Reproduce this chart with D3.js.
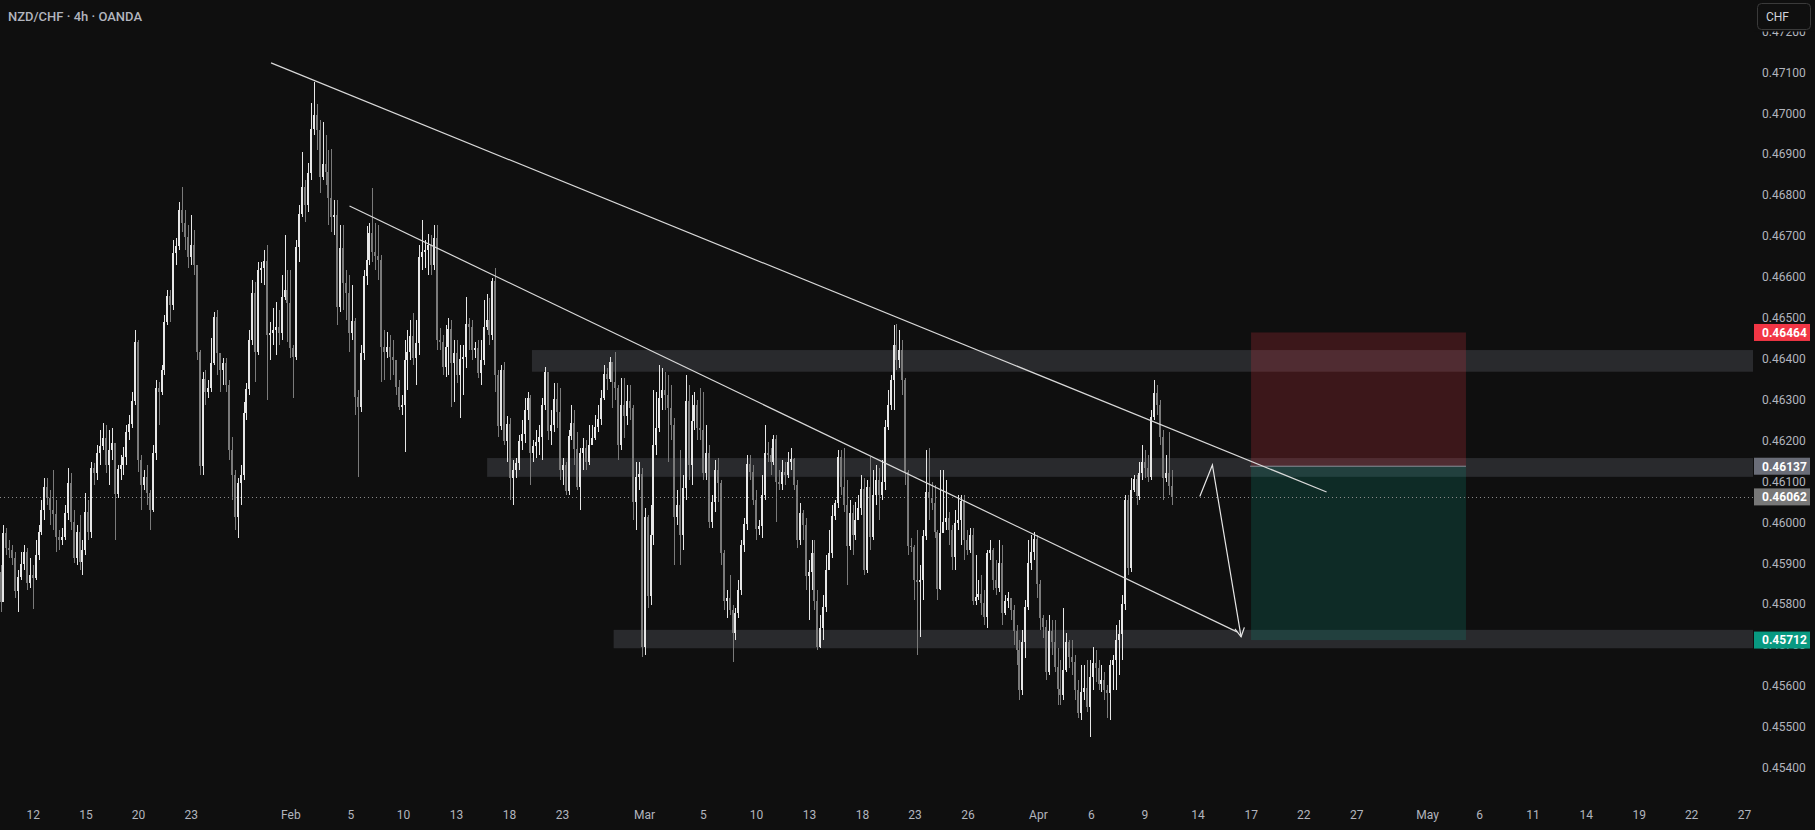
<!DOCTYPE html>
<html>
<head>
<meta charset="utf-8">
<script src="https://cdn.jsdelivr.net/npm/d3@7"></script>
<style>
	html, body { margin: 0; padding: 0; background: #0f0f0f; overflow: hidden; }
	svg { display: block; }
</style>
</head>
<body>
<div id="chart"></div>
<script>
// NZD/CHF 4h candles, prices in 1e-5 units (open = previous close)
var open0 = 45879;
var closes = [
	45805, 45974, 45937, 45932, 45913, 45832, 45866, 45898, 45927, 45852,
	45871, 45864, 45920, 45976, 46030, 46086, 46059, 46030, 46020, 45964,
	45957, 45964, 46023, 46096, 46001, 45913, 45976, 45903, 45932, 46025,
	45976, 46133, 46121, 46169, 46187, 46206, 46140, 46177, 46194, 46069,
	46130, 46140, 46160, 46221, 46240, 46297, 46441, 46152, 46091, 46111,
	46072, 46030, 46169, 46329, 46319, 46372, 46490, 46553, 46531, 46658,
	46676, 46764, 46732, 46698, 46649, 46678, 46629, 46416, 46138, 46350,
	46319, 46329, 46390, 46502, 46414, 46372, 46390, 46336, 46177, 46116,
	46013, 46096, 46116, 46267, 46326, 46446, 46561, 46416, 46617, 46622,
	46639, 46458, 46463, 46470, 46477, 46463, 46551, 46568, 46536, 46426,
	46404, 46673, 46754, 46820, 46776, 46854, 46962, 46996, 46959, 46844,
	46876, 46856, 46793, 46747, 46751, 46527, 46671, 46585, 46561, 46463,
	46492, 46306, 46282, 46414, 46602, 46641, 46707, 46661, 46651, 46641,
	46429, 46416, 46429, 46404, 46397, 46331, 46282, 46287, 46397, 46416,
	46456, 46402, 46438, 46649, 46661, 46666, 46678, 46629, 46695, 46446,
	46441, 46380, 46429, 46473, 46390, 46414, 46360, 46399, 46404, 46485,
	46477, 46421, 46426, 46365, 46397, 46477, 46495, 46458, 46590, 46360,
	46236, 46372, 46199, 46240, 46108, 46128, 46145, 46199, 46216, 46275,
	46304, 46169, 46187, 46196, 46209, 46287, 46368, 46223, 46238, 46302,
	46270, 46128, 46140, 46077, 46211, 46243, 46179, 46086, 46169, 46182,
	46147, 46189, 46206, 46233, 46253, 46304, 46363, 46350, 46392, 46343,
	46329, 46189, 46287, 46260, 46297, 46280, 46050, 46111, 46118, 45695,
	46013, 45820, 45969, 46189, 46231, 46304, 46324, 46311, 46280, 46238,
	46013, 46042, 45969, 46084, 46297, 46140, 46248, 46287, 46231, 46226,
	46121, 46169, 46001, 46050, 46128, 46096, 45925, 45808, 45815, 45786,
	45730, 45779, 45835, 45945, 45996, 46143, 46123, 46055, 45984, 45991,
	46067, 46169, 46165, 46147, 46204, 46099, 46094, 46123, 46116, 46147,
	46155, 46091, 45957, 46023, 45994, 45869, 45879, 45925, 45808, 45695,
	45742, 45793, 45883, 45925, 46015, 46047, 46160, 46086, 46042, 45942,
	46023, 45969, 46006, 46035, 46081, 45883, 46086, 45964, 46067, 46104,
	46067, 46099, 46233, 46287, 46348, 46434, 46397, 46421, 46348, 46123,
	45942, 45940, 45859, 45854, 45859, 45967, 46074, 46059, 46047, 45976,
	45837, 45974, 46001, 46011, 45981, 45915, 45998, 46006, 46052, 45957,
	45932, 45969, 45808, 45818, 45825, 45803, 45769, 45925, 45932, 45859,
	45839, 45901, 45779, 45808, 45815, 45786, 45734, 45688, 45590, 45707,
	45793, 45901, 45927, 45959, 45849, 45766, 45744, 45634, 45734, 45707,
	45646, 45593, 45578, 45639, 45707, 45671, 45659, 45590, 45534, 45585,
	45595, 45549, 45622, 45656, 45644, 45605, 45615, 45590, 45583, 45651,
	45664, 45712, 45727, 45800, 46055, 45888, 46079, 46106, 46064, 46121,
	46147, 46133, 46111, 46257, 46316, 46287, 46209, 46108, 46121, 46089,
	46062
];
var highs = [
	45896, 45994, 45986, 45957, 45945, 45927, 45883, 45927, 45945, 45937,
	45913, 45896, 45957, 45994, 46055, 46108, 46108, 46079, 46128, 46055,
	45981, 45986, 46042, 46133, 46121, 46030, 45994, 46018, 45957, 46072,
	46055, 46147, 46145, 46189, 46226, 46243, 46238, 46226, 46231, 46098,
	46140, 46165, 46184, 46238, 46263, 46319, 46470, 46446, 46165, 46128,
	46140, 46079, 46189, 46348, 46343, 46385, 46507, 46568, 46568, 46690,
	46695, 46783, 46820, 46764, 46727, 46751, 46715, 46629, 46421, 46368,
	46372, 46348, 46451, 46514, 46519, 46409, 46402, 46402, 46348, 46209,
	46128, 46108, 46140, 46294, 46341, 46470, 46593, 46588, 46636, 46636,
	46666, 46678, 46490, 46524, 46539, 46519, 46605, 46703, 46617, 46617,
	46434, 46690, 46776, 46905, 46837, 46878, 47025, 47076, 47023, 46984,
	46979, 46947, 46910, 46913, 46788, 46788, 46727, 46727, 46617, 46605,
	46580, 46500, 46324, 46434, 46617, 46724, 46732, 46817, 46732, 46727,
	46654, 46470, 46465, 46458, 46446, 46397, 46348, 46311, 46446, 46470,
	46495, 46512, 46495, 46678, 46739, 46690, 46705, 46703, 46727, 46727,
	46475, 46458, 46482, 46500, 46495, 46446, 46446, 46434, 46434, 46551,
	46500, 46495, 46441, 46446, 46446, 46544, 46558, 46549, 46597, 46622,
	46372, 46385, 46392, 46260, 46255, 46152, 46157, 46214, 46250, 46304,
	46319, 46311, 46201, 46226, 46238, 46304, 46380, 46343, 46275, 46341,
	46341, 46329, 46157, 46147, 46226, 46287, 46275, 46221, 46182, 46206,
	46201, 46238, 46238, 46263, 46287, 46324, 46385, 46377, 46404, 46392,
	46416, 46336, 46353, 46353, 46336, 46336, 46287, 46147, 46147, 46133,
	46035, 46018, 46042, 46324, 46319, 46385, 46377, 46368, 46360, 46336,
	46255, 46079, 46177, 46116, 46360, 46336, 46311, 46319, 46299, 46329,
	46319, 46238, 46189, 46067, 46152, 46157, 46104, 45932, 45835, 45871,
	45798, 45791, 45859, 45957, 46011, 46165, 46165, 46140, 46079, 46006,
	46116, 46238, 46196, 46182, 46214, 46214, 46128, 46152, 46147, 46172,
	46182, 46157, 46104, 46047, 46030, 46011, 45908, 45957, 45957, 45835,
	45773, 45822, 45920, 45981, 46042, 46055, 46177, 46177, 46182, 46104,
	46055, 46042, 46050, 46067, 46116, 46108, 46104, 46160, 46128, 46140,
	46133, 46152, 46250, 46324, 46360, 46482, 46485, 46470, 46446, 46353,
	46128, 45962, 45945, 45981, 45896, 45981, 46177, 46182, 46099, 46091,
	45981, 46128, 46128, 46104, 46025, 45994, 46030, 46067, 46067, 46067,
	45981, 45986, 45986, 45920, 45859, 45871, 45835, 45932, 45957, 45937,
	45908, 45957, 45945, 45822, 45830, 45815, 45798, 45749, 45712, 45737,
	45810, 45957, 45969, 45976, 45969, 45859, 45773, 45761, 45773, 45761,
	45761, 45693, 45664, 45791, 45730, 45712, 45712, 45676, 45615, 45652,
	45652, 45664, 45664, 45695, 45688, 45664, 45652, 45634, 45603, 45664,
	45676, 45749, 45761, 45822, 46067, 46067, 46108, 46116, 46116, 46147,
	46189, 46177, 46165, 46275, 46348, 46336, 46299, 46226, 46165, 46221,
	46128
];
var lows = [
	45781, 45839, 45920, 45913, 45896, 45815, 45781, 45859, 45883, 45835,
	45839, 45788, 45859, 45908, 45969, 46006, 46042, 45994, 45981, 45927,
	45932, 45945, 45957, 46006, 45981, 45901, 45896, 45883, 45871, 45920,
	45957, 45962, 46091, 46104, 46140, 46177, 46121, 46091, 46152, 45957,
	46059, 46104, 46116, 46140, 46201, 46231, 46287, 46123, 46030, 46079,
	46042, 45981, 46025, 46152, 46238, 46311, 46360, 46482, 46490, 46519,
	46629, 46666, 46710, 46666, 46622, 46629, 46605, 46397, 46116, 46116,
	46287, 46304, 46319, 46385, 46360, 46319, 46336, 46319, 46152, 46055,
	45981, 45962, 46042, 46104, 46250, 46311, 46434, 46343, 46409, 46585,
	46580, 46299, 46397, 46434, 46409, 46434, 46446, 46544, 46441, 46402,
	46304, 46397, 46636, 46747, 46734, 46759, 46837, 46947, 46910, 46805,
	46837, 46825, 46727, 46710, 46703, 46482, 46514, 46519, 46495, 46416,
	46446, 46263, 46111, 46270, 46397, 46580, 46629, 46636, 46617, 46593,
	46343, 46348, 46402, 46348, 46360, 46311, 46275, 46263, 46172, 46324,
	46397, 46385, 46336, 46409, 46617, 46622, 46605, 46605, 46617, 46421,
	46421, 46360, 46355, 46360, 46282, 46294, 46341, 46255, 46311, 46377,
	46421, 46397, 46402, 46353, 46336, 46385, 46470, 46434, 46446, 46319,
	46209, 46226, 46189, 46147, 46055, 46042, 46108, 46128, 46177, 46194,
	46250, 46091, 46147, 46157, 46165, 46152, 46275, 46201, 46189, 46221,
	46231, 46104, 46091, 46067, 46067, 46201, 46140, 46079, 46030, 46128,
	46128, 46140, 46196, 46201, 46221, 46238, 46299, 46324, 46343, 46280,
	46299, 46152, 46177, 46206, 46238, 46250, 46006, 45981, 46079, 45671,
	45676, 45791, 45798, 45945, 46165, 46221, 46275, 46275, 46147, 46201,
	45896, 45994, 45896, 45932, 46055, 46104, 46091, 46226, 46201, 46201,
	46104, 46104, 45986, 45986, 46025, 46050, 45896, 45786, 45766, 45773,
	45659, 45712, 45766, 45822, 45927, 45981, 46104, 46042, 45957, 45969,
	45962, 46055, 46147, 46116, 46140, 46001, 46079, 46079, 46091, 46108,
	46128, 46079, 45937, 45945, 45957, 45835, 45761, 45835, 45786, 45688,
	45693, 45712, 45781, 45896, 45913, 46006, 46035, 46067, 46025, 45847,
	45932, 45920, 45957, 46006, 46018, 45871, 45876, 45932, 45957, 46042,
	46006, 46055, 46079, 46226, 46275, 46275, 46372, 46377, 46311, 46091,
	45920, 45927, 45810, 45676, 45720, 45810, 45957, 46006, 46030, 45962,
	45810, 45835, 45981, 45981, 45945, 45883, 45883, 45981, 45945, 45908,
	45920, 45925, 45798, 45798, 45810, 45773, 45749, 45742, 45908, 45835,
	45822, 45830, 45749, 45773, 45791, 45761, 45700, 45652, 45566, 45578,
	45669, 45786, 45883, 45908, 45815, 45737, 45717, 45615, 45627, 45676,
	45634, 45554, 45554, 45566, 45634, 45644, 45627, 45566, 45522, 45517,
	45566, 45536, 45476, 45590, 45610, 45590, 45585, 45566, 45522, 45517,
	45590, 45590, 45627, 45664, 45786, 45871, 45879, 46074, 46042, 46055,
	46104, 46108, 46099, 46104, 46250, 46263, 46189, 46055, 46099, 46067,
	46042
];

// time axis: bar index of each label
var tickIdx = [11, 29, 47, 65, 99, 119.5, 137.5, 155.6, 173.7, 191.8, 219.8, 239.9, 258, 276.1, 294.2, 312.2, 330.3,
	354.3, 372.4, 390.7, 408.8, 427, 444.9, 463, 487.2, 505, 523.2, 541.4, 559.5, 577.4, 595.5];
var tickLabels = ["12", "15", "20", "23", "Feb", "5", "10", "13", "18", "23", "Mar", "5", "10", "13", "18", "23", "26",
	"Apr", "6", "9", "14", "17", "22", "27", "May", "6", "11", "14", "19", "22", "27"];
var priceTicks = [0.454, 0.455, 0.456, 0.457, 0.458, 0.459, 0.460, 0.461, 0.462, 0.463, 0.464, 0.465, 0.466,
	0.467, 0.468, 0.469, 0.470, 0.471, 0.472];

// grey zones: first bar, low, high
var zoneStart = [181.5, 166.2, 209.4];
var zoneLow = [0.46368, 0.46111, 0.45692];
var zoneHigh = [0.46421, 0.46157, 0.45737];

// drawings: [bar index, price]
var trendA = [[92.4, 0.47123], [452.9, 0.46074]];
var trendB = [[119.2, 0.46773], [422.3, 0.45732]];
var arrowPts = [[409.6, 0.46063], [413.9, 0.46140], [423.7, 0.45720]];

// short position tool
var posStart = 427.1, posEnd = 500.5;
var entryPrice = 0.46137, stopPrice = 0.46464, targetPrice = 0.45712;
var lastPrice = 0.46062;

var badgePrices = [stopPrice, entryPrice, lastPrice, targetPrice];
var badgeColors = ["#f23645", "#6a6d78", "#787878", "#089981"];

var width = 1815, height = 830;
var plotRight = 1753;
var font = "Roboto, 'Noto Sans', sans-serif";

var x = d3.scaleLinear().domain([0, 400]).range([0.5, 1171.7]);
var y = d3.scaleLinear().domain([0.471, 0.454]).range([72.3, 767.7]);

var svg = d3.select("#chart").append("svg")
	.attr("width", width)
	.attr("height", height);

svg.append("rect")
	.attr("width", width)
	.attr("height", height)
	.attr("fill", "#0f0f0f");

// zones
svg.selectAll(".zone")
	.data(zoneStart)
	.enter()
	.append("rect")
	.attr("class", "zone")
	.attr("x", function (d) { return x(d); })
	.attr("width", function (d) { return plotRight - x(d); })
	.attr("y", function (d, i) { return y(zoneHigh[i]); })
	.attr("height", function (d, i) { return y(zoneLow[i]) - y(zoneHigh[i]); })
	.attr("fill", "rgba(120,123,134,0.25)");

// position boxes
svg.append("rect")
	.attr("x", x(posStart)).attr("width", x(posEnd) - x(posStart))
	.attr("y", y(stopPrice)).attr("height", y(entryPrice) - y(stopPrice))
	.attr("fill", "rgba(242,54,69,0.2)");
svg.append("rect")
	.attr("x", x(posStart)).attr("width", x(posEnd) - x(posStart))
	.attr("y", y(entryPrice)).attr("height", y(targetPrice) - y(entryPrice))
	.attr("fill", "rgba(8,153,129,0.2)");
svg.append("line")
	.attr("x1", x(posStart) - 1).attr("x2", x(posEnd))
	.attr("y1", y(entryPrice)).attr("y2", y(entryPrice))
	.attr("stroke", "#8a8d96").attr("stroke-width", 1);

// last price dotted line
svg.append("line")
	.attr("x1", 0).attr("x2", plotRight)
	.attr("y1", Math.round(y(lastPrice)) + 0.5).attr("y2", Math.round(y(lastPrice)) + 0.5)
	.attr("stroke", "#8a8a8a").attr("stroke-width", 1)
	.attr("stroke-dasharray", "1,3");

// candles
var bars = closes.map(function (c, i) {
	var o = (i == 0 ? open0 : closes[i - 1]) / 1e5;
	return { i: i, o: o, h: highs[i] / 1e5, l: lows[i] / 1e5, c: c / 1e5 };
});
var upColor = "#e6e6e6", downColor = "#7a7a7a";

var candle = svg.append("g").attr("shape-rendering", "crispEdges");
candle.selectAll(".wick")
	.data(bars)
	.enter()
	.append("rect")
	.attr("x", function (d) { return Math.round(x(d.i)); })
	.attr("width", 1)
	.attr("y", function (d) { return y(Math.max(d.h, d.o, d.c)); })
	.attr("height", function (d) { return y(Math.min(d.l, d.o, d.c)) - y(Math.max(d.h, d.o, d.c)); })
	.attr("fill", function (d) { return d.c >= d.o ? upColor : downColor; });
candle.selectAll(".body")
	.data(bars)
	.enter()
	.append("rect")
	.attr("x", function (d) { return Math.round(x(d.i)) - 1; })
	.attr("width", 2)
	.attr("y", function (d) { return y(Math.max(d.o, d.c)); })
	.attr("height", function (d) { return Math.max(1, Math.abs(y(d.o) - y(d.c))); })
	.attr("fill", function (d) { return d.c >= d.o ? upColor : downColor; });

// trend lines
var line = d3.line()
	.x(function (d) { return x(d[0]); })
	.y(function (d) { return y(d[1]); });
[trendA, trendB].forEach(function (t) {
	svg.append("path")
		.attr("d", line(t))
		.attr("fill", "none")
		.attr("stroke", "#d9d9d9")
		.attr("stroke-width", 1.2);
});

// projected path arrow
svg.append("path")
	.attr("d", line(arrowPts))
	.attr("fill", "none")
	.attr("stroke", "#e6e6e6")
	.attr("stroke-width", 1.2);
var tip = arrowPts[arrowPts.length - 1], prev = arrowPts[arrowPts.length - 2];
var tx = x(tip[0]), ty = y(tip[1]);
var ang = Math.atan2(ty - y(prev[1]), tx - x(prev[0]));
var head = [-0.5, 0.5].map(function (a) {
	return [tx - 10 * Math.cos(ang + a), ty - 10 * Math.sin(ang + a)];
});
svg.append("path")
	.attr("d", "M" + head[0] + "L" + tx + "," + ty + "L" + head[1])
	.attr("fill", "none")
	.attr("stroke", "#e6e6e6")
	.attr("stroke-width", 1.2);

// price axis
var yAxis = d3.axisRight(y)
	.tickValues(priceTicks)
	.tickFormat(d3.format(".5f"))
	.tickSize(0)
	.tickPadding(0);
var ya = svg.append("g")
	.attr("transform", "translate(1762,0)")
	.call(yAxis);
ya.select(".domain").remove();
ya.selectAll("text")
	.attr("fill", "#b2b5be")
	.style("font-family", font)
	.style("font-size", "12px");

// time axis
var xAxis = d3.axisBottom(x)
	.tickValues(tickIdx)
	.tickFormat(function (d, i) { return tickLabels[i]; })
	.tickSize(0)
	.tickPadding(0);
var xa = svg.append("g")
	.attr("transform", "translate(0,810)")
	.call(xAxis);
xa.select(".domain").remove();
xa.selectAll("text")
	.attr("fill", "#b2b5be")
	.style("font-family", font)
	.style("font-size", "12px");

// price badges
var badge = svg.selectAll(".badge")
	.data(badgePrices)
	.enter()
	.append("g")
	.attr("transform", function (d) { return "translate(1754," + y(d) + ")"; });
badge.append("rect")
	.attr("x", 0).attr("y", -8.5)
	.attr("width", 56).attr("height", 17)
	.attr("fill", function (d, i) { return badgeColors[i]; });
badge.append("text")
	.attr("x", 8).attr("dy", "0.36em")
	.attr("fill", "#ffffff")
	.style("font-family", font)
	.style("font-size", "12px")
	.style("font-weight", "bold")
	.text(function (d) { return d3.format(".5f")(d); });

// currency button, its backdrop hides most of the top tick label
svg.append("rect")
	.attr("x", 1754).attr("y", 0)
	.attr("width", 61).attr("height", 31.5)
	.attr("fill", "#0f0f0f");
svg.append("rect")
	.attr("x", 1757.5).attr("y", 3.5)
	.attr("width", 53).attr("height", 26)
	.attr("rx", 4)
	.attr("fill", "#0f0f0f")
	.attr("stroke", "#3a3a3a");
svg.append("text")
	.attr("x", 1766).attr("y", 21)
	.attr("fill", "#d1d4dc")
	.style("font-family", font)
	.style("font-size", "12px")
	.text("CHF");

// title
svg.append("text")
	.attr("x", 8).attr("y", 21)
	.attr("fill", "#b2b5be")
	.style("font-family", font)
	.style("font-size", "13px")
	.style("font-weight", "500")
	.text("NZD/CHF · 4h · OANDA");
</script>
</body>
</html>
